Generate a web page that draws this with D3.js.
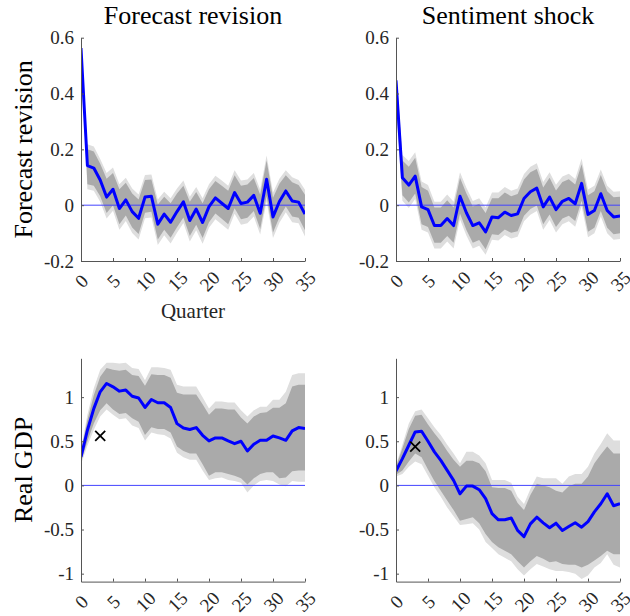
<!DOCTYPE html>
<html>
<head>
<meta charset="utf-8">
<script src="https://cdn.jsdelivr.net/npm/d3@7"></script>
<style>
  body { margin: 0; background: #fff; }
  svg text { font-family: "Liberation Serif", "DejaVu Serif", serif; }
</style>
</head>
<body>
<svg id="chart" width="630" height="616"></svg>
<script>
// Datos (lectura de la figura)
var quarters = d3.range(0, 36);
var xTicks = [0, 5, 10, 15, 20, 25, 30, 35];
var xTickLabels = ["0", "5", "10", "15", "20", "25", "30", "35"];

var yTicksTop = [-0.2, 0, 0.2, 0.4, 0.6];
var yTickLabelsTop = ["-0.2", "0", "0.2", "0.4", "0.6"];
var yTicksBottom = [-1, -0.5, 0, 0.5, 1];
var yTickLabelsBottom = ["-1", "-0.5", "0", "0.5", "1"];

var titles = ["Forecast revision", "Sentiment shock"];
var rowLabels = ["Forecast revision", "Real GDP"];

// Forecast revision -> Forecast revision
var frLine = [0.563,0.142,0.133,0.09,0.029,0.057,-0.012,0.019,-0.023,-0.047,0.029,0.032,-0.068,-0.032,-0.061,-0.023,0.012,-0.055,-0.014,-0.062,-0.005,0.026,0.007,-0.012,0.045,0.006,0.011,0.035,-0.029,0.093,-0.042,0.013,0.051,0.015,0.011,-0.032];
var frHi90 = [0.575,0.218,0.210,0.165,0.115,0.135,0.075,0.098,0.060,0.038,0.108,0.110,0.020,0.048,0.025,0.060,0.088,0.030,0.065,0.025,0.075,0.105,0.088,0.070,0.125,0.088,0.092,0.115,0.055,0.178,0.045,0.095,0.125,0.100,0.090,0.055];
var frHi68 = [0.570,0.200,0.192,0.148,0.095,0.115,0.057,0.080,0.042,0.020,0.090,0.092,0.002,0.030,0.007,0.042,0.070,0.012,0.047,0.007,0.057,0.087,0.070,0.052,0.107,0.070,0.074,0.097,0.037,0.160,0.027,0.077,0.107,0.082,0.072,0.037];
var frLo68 = [0.555,0.075,0.070,0.032,-0.028,0.000,-0.068,-0.037,-0.080,-0.103,-0.027,-0.024,-0.123,-0.088,-0.117,-0.079,-0.044,-0.110,-0.070,-0.118,-0.061,-0.030,-0.049,-0.068,-0.011,-0.050,-0.045,-0.021,-0.085,0.033,-0.098,-0.043,-0.005,-0.041,-0.045,-0.090];
var frLo90 = [0.550,0.057,0.052,0.012,-0.048,-0.020,-0.088,-0.057,-0.100,-0.123,-0.047,-0.044,-0.143,-0.108,-0.137,-0.099,-0.064,-0.130,-0.090,-0.138,-0.081,-0.050,-0.069,-0.088,-0.031,-0.070,-0.065,-0.041,-0.105,0.013,-0.118,-0.063,-0.025,-0.061,-0.065,-0.112];

// Sentiment shock -> Forecast revision
var ssLine = [0.447,0.098,0.072,0.104,-0.006,-0.016,-0.073,-0.073,-0.048,-0.073,0.032,-0.027,-0.073,-0.063,-0.096,-0.042,-0.045,-0.025,-0.037,-0.031,0.024,0.048,0.061,-0.006,0.029,-0.016,0.014,0.024,0.005,0.078,-0.033,-0.019,0.041,-0.019,-0.042,-0.039];
var ssHi90 = [0.500,0.180,0.158,0.190,0.085,0.072,0.012,0.012,0.038,0.012,0.118,0.062,0.015,0.025,-0.008,0.045,0.045,0.065,0.052,0.060,0.112,0.138,0.150,0.083,0.118,0.073,0.103,0.113,0.094,0.167,0.056,0.070,0.128,0.070,0.048,0.050];
var ssHi68 = [0.490,0.160,0.138,0.170,0.065,0.052,-0.008,-0.008,0.018,-0.008,0.098,0.042,-0.005,0.005,-0.028,0.025,0.025,0.045,0.032,0.040,0.092,0.118,0.130,0.063,0.098,0.053,0.083,0.093,0.074,0.147,0.036,0.050,0.108,0.050,0.028,0.030];
var ssLo68 = [0.380,0.036,0.010,0.042,-0.068,-0.078,-0.135,-0.135,-0.110,-0.135,-0.030,-0.089,-0.135,-0.125,-0.158,-0.104,-0.107,-0.087,-0.099,-0.093,-0.038,-0.014,-0.001,-0.068,-0.033,-0.078,-0.048,-0.038,-0.057,0.016,-0.095,-0.081,-0.021,-0.081,-0.104,-0.101];
var ssLo90 = [0.350,0.016,-0.010,0.022,-0.088,-0.098,-0.155,-0.155,-0.130,-0.155,-0.050,-0.109,-0.155,-0.145,-0.178,-0.124,-0.127,-0.107,-0.119,-0.113,-0.058,-0.034,-0.021,-0.088,-0.053,-0.098,-0.068,-0.058,-0.077,-0.004,-0.115,-0.101,-0.041,-0.101,-0.124,-0.121];

// Forecast revision -> Real GDP
var gdpFrLine = [0.322,0.625,0.87,1.06,1.155,1.117,1.068,1.08,1.01,0.99,0.883,0.973,0.936,0.936,0.883,0.70,0.65,0.633,0.655,0.568,0.504,0.538,0.538,0.504,0.473,0.50,0.39,0.466,0.511,0.511,0.56,0.538,0.511,0.617,0.655,0.644];
var gdpFrHi90 = [0.41,0.80,1.10,1.31,1.39,1.39,1.38,1.39,1.33,1.32,1.19,1.34,1.34,1.33,1.31,1.14,1.12,1.12,1.12,1.00,0.87,0.95,0.95,0.94,0.94,0.85,0.78,0.85,0.89,0.89,0.97,0.97,1.06,1.25,1.27,1.27];
var gdpFrHi68 = [0.38,0.74,1.02,1.23,1.33,1.31,1.30,1.31,1.25,1.24,1.13,1.26,1.25,1.25,1.22,1.05,1.03,1.03,1.03,0.92,0.80,0.87,0.87,0.86,0.86,0.77,0.70,0.78,0.82,0.83,0.88,0.88,0.93,1.12,1.14,1.14];
var gdpFrLo68 = [0.27,0.50,0.70,0.85,0.93,0.86,0.81,0.82,0.76,0.72,0.57,0.66,0.64,0.64,0.60,0.44,0.39,0.36,0.36,0.24,0.11,0.15,0.15,0.13,0.11,0.08,0.01,0.08,0.13,0.15,0.15,0.08,0.09,0.16,0.17,0.17];
var gdpFrLo90 = [0.24,0.45,0.63,0.78,0.86,0.80,0.75,0.76,0.68,0.65,0.51,0.60,0.58,0.57,0.53,0.37,0.32,0.29,0.29,0.17,0.06,0.08,0.09,0.06,0.05,0.03,-0.08,0.00,0.05,0.06,0.05,0.01,-0.01,0.05,0.04,0.04];

// Sentiment shock -> Real GDP
var gdpSsLine = [0.163,0.303,0.455,0.606,0.614,0.50,0.38,0.284,0.17,0.057,-0.095,-0.008,-0.008,-0.049,-0.15,-0.32,-0.39,-0.39,-0.37,-0.51,-0.58,-0.436,-0.36,-0.424,-0.48,-0.428,-0.51,-0.466,-0.424,-0.473,-0.41,-0.30,-0.208,-0.095,-0.23,-0.208];
var gdpSsHi90 = [0.23,0.46,0.70,0.84,0.86,0.76,0.66,0.57,0.46,0.36,0.25,0.38,0.38,0.34,0.25,0.06,0.06,0.06,0.03,-0.13,-0.21,-0.04,0.10,0.08,0.08,0.08,0.02,0.10,0.13,0.13,0.21,0.36,0.47,0.59,0.51,0.51];
var gdpSsHi68 = [0.21,0.42,0.64,0.79,0.80,0.69,0.59,0.50,0.39,0.29,0.21,0.28,0.28,0.25,0.16,-0.02,-0.03,-0.03,-0.06,-0.20,-0.28,-0.11,0.02,0.00,-0.02,-0.06,-0.08,-0.01,0.02,0.02,0.10,0.25,0.35,0.44,0.36,0.36];
var gdpSsLo68 = [0.12,0.17,0.27,0.36,0.32,0.18,0.05,-0.06,-0.17,-0.28,-0.40,-0.38,-0.36,-0.43,-0.55,-0.64,-0.70,-0.74,-0.78,-0.86,-0.93,-0.86,-0.80,-0.83,-0.87,-0.86,-0.89,-0.90,-0.90,-0.93,-0.90,-0.85,-0.80,-0.74,-0.78,-0.78];
var gdpSsLo90 = [0.10,0.13,0.21,0.27,0.24,0.11,-0.02,-0.13,-0.25,-0.35,-0.45,-0.44,-0.43,-0.50,-0.64,-0.71,-0.78,-0.82,-0.86,-0.95,-1.02,-0.95,-0.89,-0.92,-0.95,-0.97,-0.97,-0.98,-1.00,-1.06,-1.02,-0.93,-0.88,-0.78,-0.90,-0.93];

// Marcas "x" (trimestre, valor)
var crossFr = [3, 0.56];
var crossSs = [3, 0.44];

// Paneles
var panels = [
  { col: 0, row: 0, line: frLine, hi90: frHi90, hi68: frHi68, lo68: frLo68, lo90: frLo90, cross: null },
  { col: 1, row: 0, line: ssLine, hi90: ssHi90, hi68: ssHi68, lo68: ssLo68, lo90: ssLo90, cross: null },
  { col: 0, row: 1, line: gdpFrLine, hi90: gdpFrHi90, hi68: gdpFrHi68, lo68: gdpFrLo68, lo90: gdpFrLo90, cross: crossFr },
  { col: 1, row: 1, line: gdpSsLine, hi90: gdpSsHi90, hi68: gdpSsHi68, lo68: gdpSsLo68, lo90: gdpSsLo90, cross: crossSs }
];

var colX = [81, 396];
var rowY = [37.7, 358.3];
var plotW = 224, plotH = 223.3;
var yDomains = [[-0.2, 0.6], [-1.09, 1.44]];

var svg = d3.select('#chart');

panels.forEach(function (p, k) {
  var x = d3.scaleLinear().domain([0, 35]).range([0, plotW]);
  var y = d3.scaleLinear().domain(yDomains[p.row]).range([plotH, 0]);

  var g = svg.append('g')
    .attr('transform', 'translate(' + colX[p.col] + ',' + rowY[p.row] + ')');

  g.append('clipPath').attr('id', 'clip' + k)
    .append('rect').attr('width', plotW).attr('height', plotH);

  var area = function (lo, hi) {
    return d3.area()
      .x(function (d) { return x(d); })
      .y0(function (d) { return y(lo[d]); })
      .y1(function (d) { return y(hi[d]); });
  };

  var body = g.append('g').attr('clip-path', 'url(#clip' + k + ')');

  // Bandas
  body.append('path').datum(quarters)
    .attr('d', area(p.lo90, p.hi90))
    .attr('fill', '#dedede');
  body.append('path').datum(quarters)
    .attr('d', area(p.lo68, p.hi68))
    .attr('fill', '#aaaaaa');

  // Linea cero
  body.append('line')
    .attr('x1', x(0)).attr('x2', x(35))
    .attr('y1', y(0)).attr('y2', y(0))
    .attr('stroke', '#4444ff')
    .attr('stroke-width', 1);

  // Respuesta
  body.append('path').datum(quarters)
    .attr('d', d3.line()
      .x(function (d) { return x(d); })
      .y(function (d) { return y(p.line[d]); }))
    .attr('fill', 'none')
    .attr('stroke', '#0000ff')
    .attr('stroke-width', 3)
    .attr('stroke-linejoin', 'round');

  // Marca x
  if (p.cross) {
    var cx = x(p.cross[0]), cy = y(p.cross[1]);
    g.append('path')
      .attr('d', 'M' + (cx - 5) + ',' + (cy - 5) + 'L' + (cx + 5) + ',' + (cy + 5) +
                 'M' + (cx - 5) + ',' + (cy + 5) + 'L' + (cx + 5) + ',' + (cy - 5))
      .attr('stroke', '#000')
      .attr('stroke-width', 1.8)
      .attr('fill', 'none');
  }

  // Ejes
  var yt = p.row === 0 ? yTicksTop : yTicksBottom;
  var ytl = p.row === 0 ? yTickLabelsTop : yTickLabelsBottom;

  var yAxis = g.append('g')
    .attr('class', 'y axis')
    .call(d3.axisLeft(y).tickValues(yt).tickSize(-3).tickSizeOuter(0).tickPadding(7)
      .tickFormat(function (d, i) { return ytl[i]; }));

  var xAxis = g.append('g')
    .attr('class', 'x axis')
    .attr('transform', 'translate(0,' + plotH + ')')
    .call(d3.axisBottom(x).tickValues(xTicks).tickSize(-3).tickSizeOuter(0)
      .tickFormat(function (d, i) { return xTickLabels[i]; }));

  [yAxis, xAxis].forEach(function (ax) {
    ax.select('.domain').attr('stroke', '#555');
    ax.selectAll('.tick line').attr('stroke', '#555');
    ax.selectAll('text')
      .attr('fill', '#262626')
      .style('font-size', '19px')
      .style('font-family', '"Liberation Serif", serif');
  });

  xAxis.selectAll('text')
    .attr('y', 0)
    .attr('dy', '0.35em')
    .attr('text-anchor', 'middle')
    .attr('transform', 'translate(0,20) rotate(-45)');

  // Titulos
  if (p.row === 0) {
    g.append('text')
      .attr('x', plotW / 2).attr('y', -14)
      .attr('text-anchor', 'middle')
      .style('font-size', '26px')
      .text(titles[p.col]);
  }
  if (p.col === 0) {
    g.append('text')
      .attr('transform', 'translate(' + (-49) + ',' + (plotH / 2) + ') rotate(-90)')
      .attr('text-anchor', 'middle')
      .style('font-size', '26px')
      .text(rowLabels[p.row]);
  }
  if (p.col === 0 && p.row === 0) {
    g.append('text')
      .attr('x', plotW / 2).attr('y', plotH + 57)
      .attr('text-anchor', 'middle')
      .style('font-size', '21px')
      .attr('fill', '#262626')
      .text('Quarter');
  }
});
</script>
</body>
</html>
